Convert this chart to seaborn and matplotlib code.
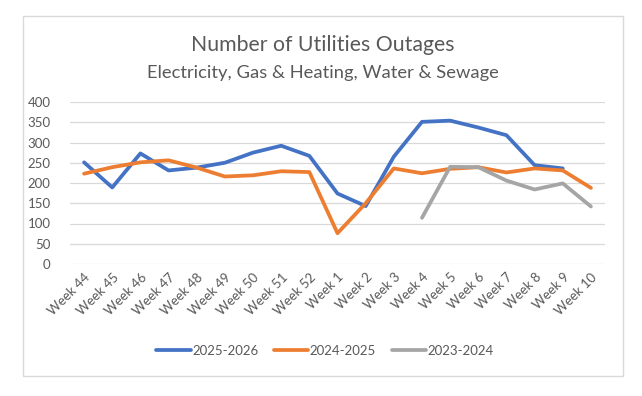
import numpy as np
import pandas as pd
import seaborn as sns
import matplotlib
matplotlib.use("Agg")
import matplotlib.pyplot as plt
from matplotlib.lines import Line2D

weeks = ["Week 44", "Week 45", "Week 46", "Week 47", "Week 48", "Week 49", "Week 50",
         "Week 51", "Week 52", "Week 1", "Week 2", "Week 3", "Week 4", "Week 5",
         "Week 6", "Week 7", "Week 8", "Week 9", "Week 10"]
s2025_2026 = [251, 189, 273, 231, 238, 250, 275, 292, 267, 174, 143, 265, 351, 354, 337, 318, 244, 236, np.nan]
s2024_2025 = [223, 239, 251, 256, 238, 216, 219, 229, 227, 76, 150, 236, 224, 235, 239, 226, 236, 231, 188]
s2023_2024 = [np.nan] * 12 + [114, 240, 239, 206, 184, 199, 142]
series_names = ["2025-2026", "2024-2025", "2023-2024"]
colors = ["#4472C4", "#ED7D31", "#A5A5A5"]

rows = []
for name, vals in zip(series_names, [s2025_2026, s2024_2025, s2023_2024]):
    for i, v in enumerate(vals):
        if not np.isnan(v):
            rows.append({"idx": i, "value": v, "season": name})
df = pd.DataFrame(rows)

sns.set_style("white")
plt.rcParams["font.family"] = ["Lato", "DejaVu Sans"]

fig = plt.figure(figsize=(6.42, 3.96), dpi=100)
ax = fig.add_axes([70 / 642, 1 - 264 / 396, 535 / 642, 162 / 396])

sns.lineplot(data=df, x="idx", y="value", hue="season", hue_order=series_names,
             palette=colors, linewidth=2.7, sort=False, ax=ax, legend=False)

ax.set_xlim(-0.5, len(weeks) - 0.5)
ax.set_ylim(0, 400)
ax.set_yticks(range(0, 401, 50))
ax.set_xticks(range(len(weeks)))
ax.set_xticklabels(weeks, rotation=45, ha="right", rotation_mode="anchor")
ax.tick_params(axis="both", length=0, labelsize=9.5, colors="#595959")
ax.tick_params(axis="y", pad=14)
ax.tick_params(axis="x", pad=5)
ax.grid(axis="y", color="#D9D9D9", linewidth=0.9)
ax.set_axisbelow(True)
for sp in ax.spines.values():
    sp.set_visible(False)
ax.set_xlabel("")
ax.set_ylabel("")

fig.text(323 / 642, 1 - 45 / 396, "Number of Utilities Outages", ha="center", va="center",
         fontsize=15.3, color="#595959")
fig.text(323 / 642, 1 - 73 / 396, "Electricity, Gas & Heating, Water & Sewage", ha="center",
         va="center", fontsize=13.2, color="#595959")

handles = [Line2D([0], [0], color=c, lw=2.7) for c in colors]
fig.legend(handles, series_names, loc="center", bbox_to_anchor=(325 / 642, 1 - 351 / 396),
           ncol=3, frameon=False, fontsize=9.5, labelcolor="#595959",
           handlelength=2.6, handletextpad=0.1, columnspacing=1.2)

border = plt.Rectangle((23 / 642, 1 - 376 / 396), 600 / 642, 360 / 396, transform=fig.transFigure,
                       fill=False, edgecolor="#D9D9D9", linewidth=1.0)
fig.patches.append(border)

fig.savefig("out.png", dpi=100)
